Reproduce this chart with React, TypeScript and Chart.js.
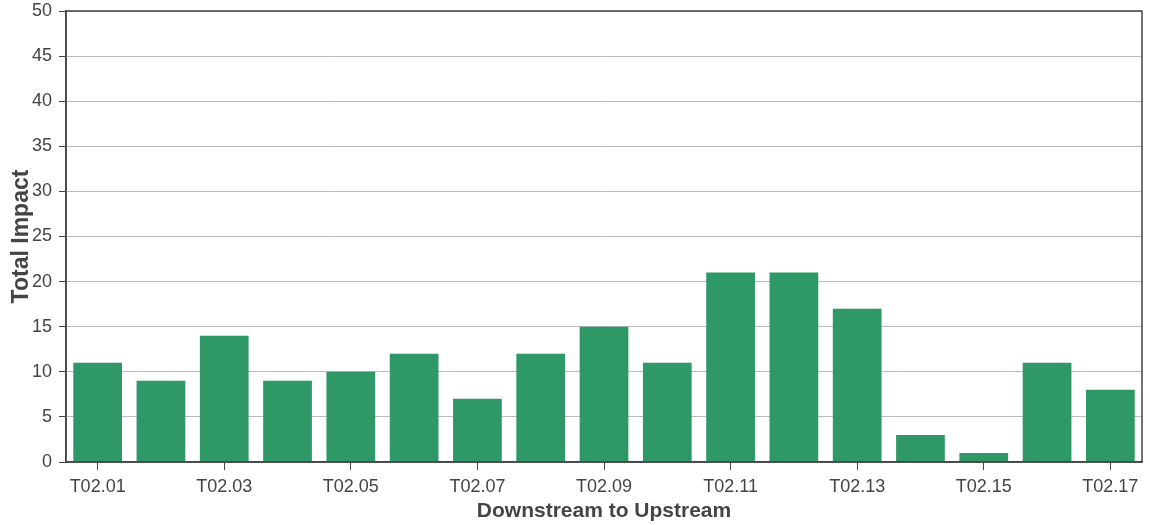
import React, { useEffect, useRef } from "react";
import { Chart, registerables } from "chart.js";

Chart.register(...registerables);

const categories = ["T02.01","T02.02","T02.03","T02.04","T02.05","T02.06","T02.07","T02.08","T02.09","T02.10","T02.11","T02.12","T02.13","T02.14","T02.15","T02.16","T02.17"];
const impactValues = [11, 9, 14, 9, 10, 12, 7, 12, 15, 11, 21, 21, 17, 3, 1, 11, 8];
const yTitle = "Total Impact";
const xTitle = "Downstream to Upstream";

const FONT = "Liberation Sans, Arial, sans-serif";

const borderPlugin = {
  id: "frame",
  afterDraw(chart: any) {
    const { ctx, chartArea: a } = chart;
    ctx.save();
    ctx.strokeStyle = "#444";
    ctx.lineWidth = 1.5;
    ctx.strokeRect(a.left, a.top, a.right - a.left, a.bottom - a.top);
    ctx.restore();
  },
};

export default function App() {
  const ref = useRef<HTMLCanvasElement>(null);
  useEffect(() => {
    const chart = new Chart(ref.current!, {
      type: "bar",
      data: {
        labels: categories,
        datasets: [{ data: impactValues, backgroundColor: "#2E9966", barPercentage: 0.77, categoryPercentage: 1 }],
      },
      options: {
        animation: false,
        responsive: false,
        maintainAspectRatio: false,
        layout: { padding: { top: 11, right: 8, left: 0, bottom: 0 } },
        plugins: { legend: { display: false }, tooltip: { enabled: false } },
        scales: {
          x: {
            offset: true,
            afterFit: (s: any) => { s.height = 63; },
            grid: {
              drawOnChartArea: false,
              offset: false,
              tickLength: 8,
              color: (c: any) => (c.index % 2 === 0 ? "#444" : "rgba(0,0,0,0)"),
            },
            border: { color: "#444", width: 1.5 },
            ticks: {
              autoSkip: false,
              maxRotation: 0,
              padding: 6,
              color: "#444",
              font: { family: FONT, size: 18 },
              callback: (_v: any, i: number) => (i % 2 === 0 ? categories[i] : ""),
            },
            title: {
              display: true,
              text: xTitle,
              color: "#444",
              padding: { top: 0, bottom: 1 },
              font: { family: FONT, size: 21, weight: "bold" },
            },
          },
          y: {
            min: 0,
            max: 50,
            afterFit: (s: any) => { s.width = 66; s.paddingTop = 0; s.paddingBottom = 0; },
            grid: { color: "#bbb", tickColor: "#444", tickLength: 7 },
            border: { color: "#444", width: 1.5 },
            ticks: {
              stepSize: 5,
              padding: 7,
              color: "#444",
              font: { family: FONT, size: 18 },
            },
            title: {
              display: true,
              text: yTitle,
              color: "#444",
              padding: { top: 8, bottom: 0 },
              font: { family: FONT, size: 23, weight: "bold" },
            },
          },
        },
      },
      plugins: [borderPlugin],
    });
    return () => chart.destroy();
  }, []);
  return (
    <div style={{ position: "fixed", left: 0, top: 0, width: 1150, height: 525, background: "#fff" }}>
      <canvas ref={ref} width={1150} height={525} />
    </div>
  );
}
